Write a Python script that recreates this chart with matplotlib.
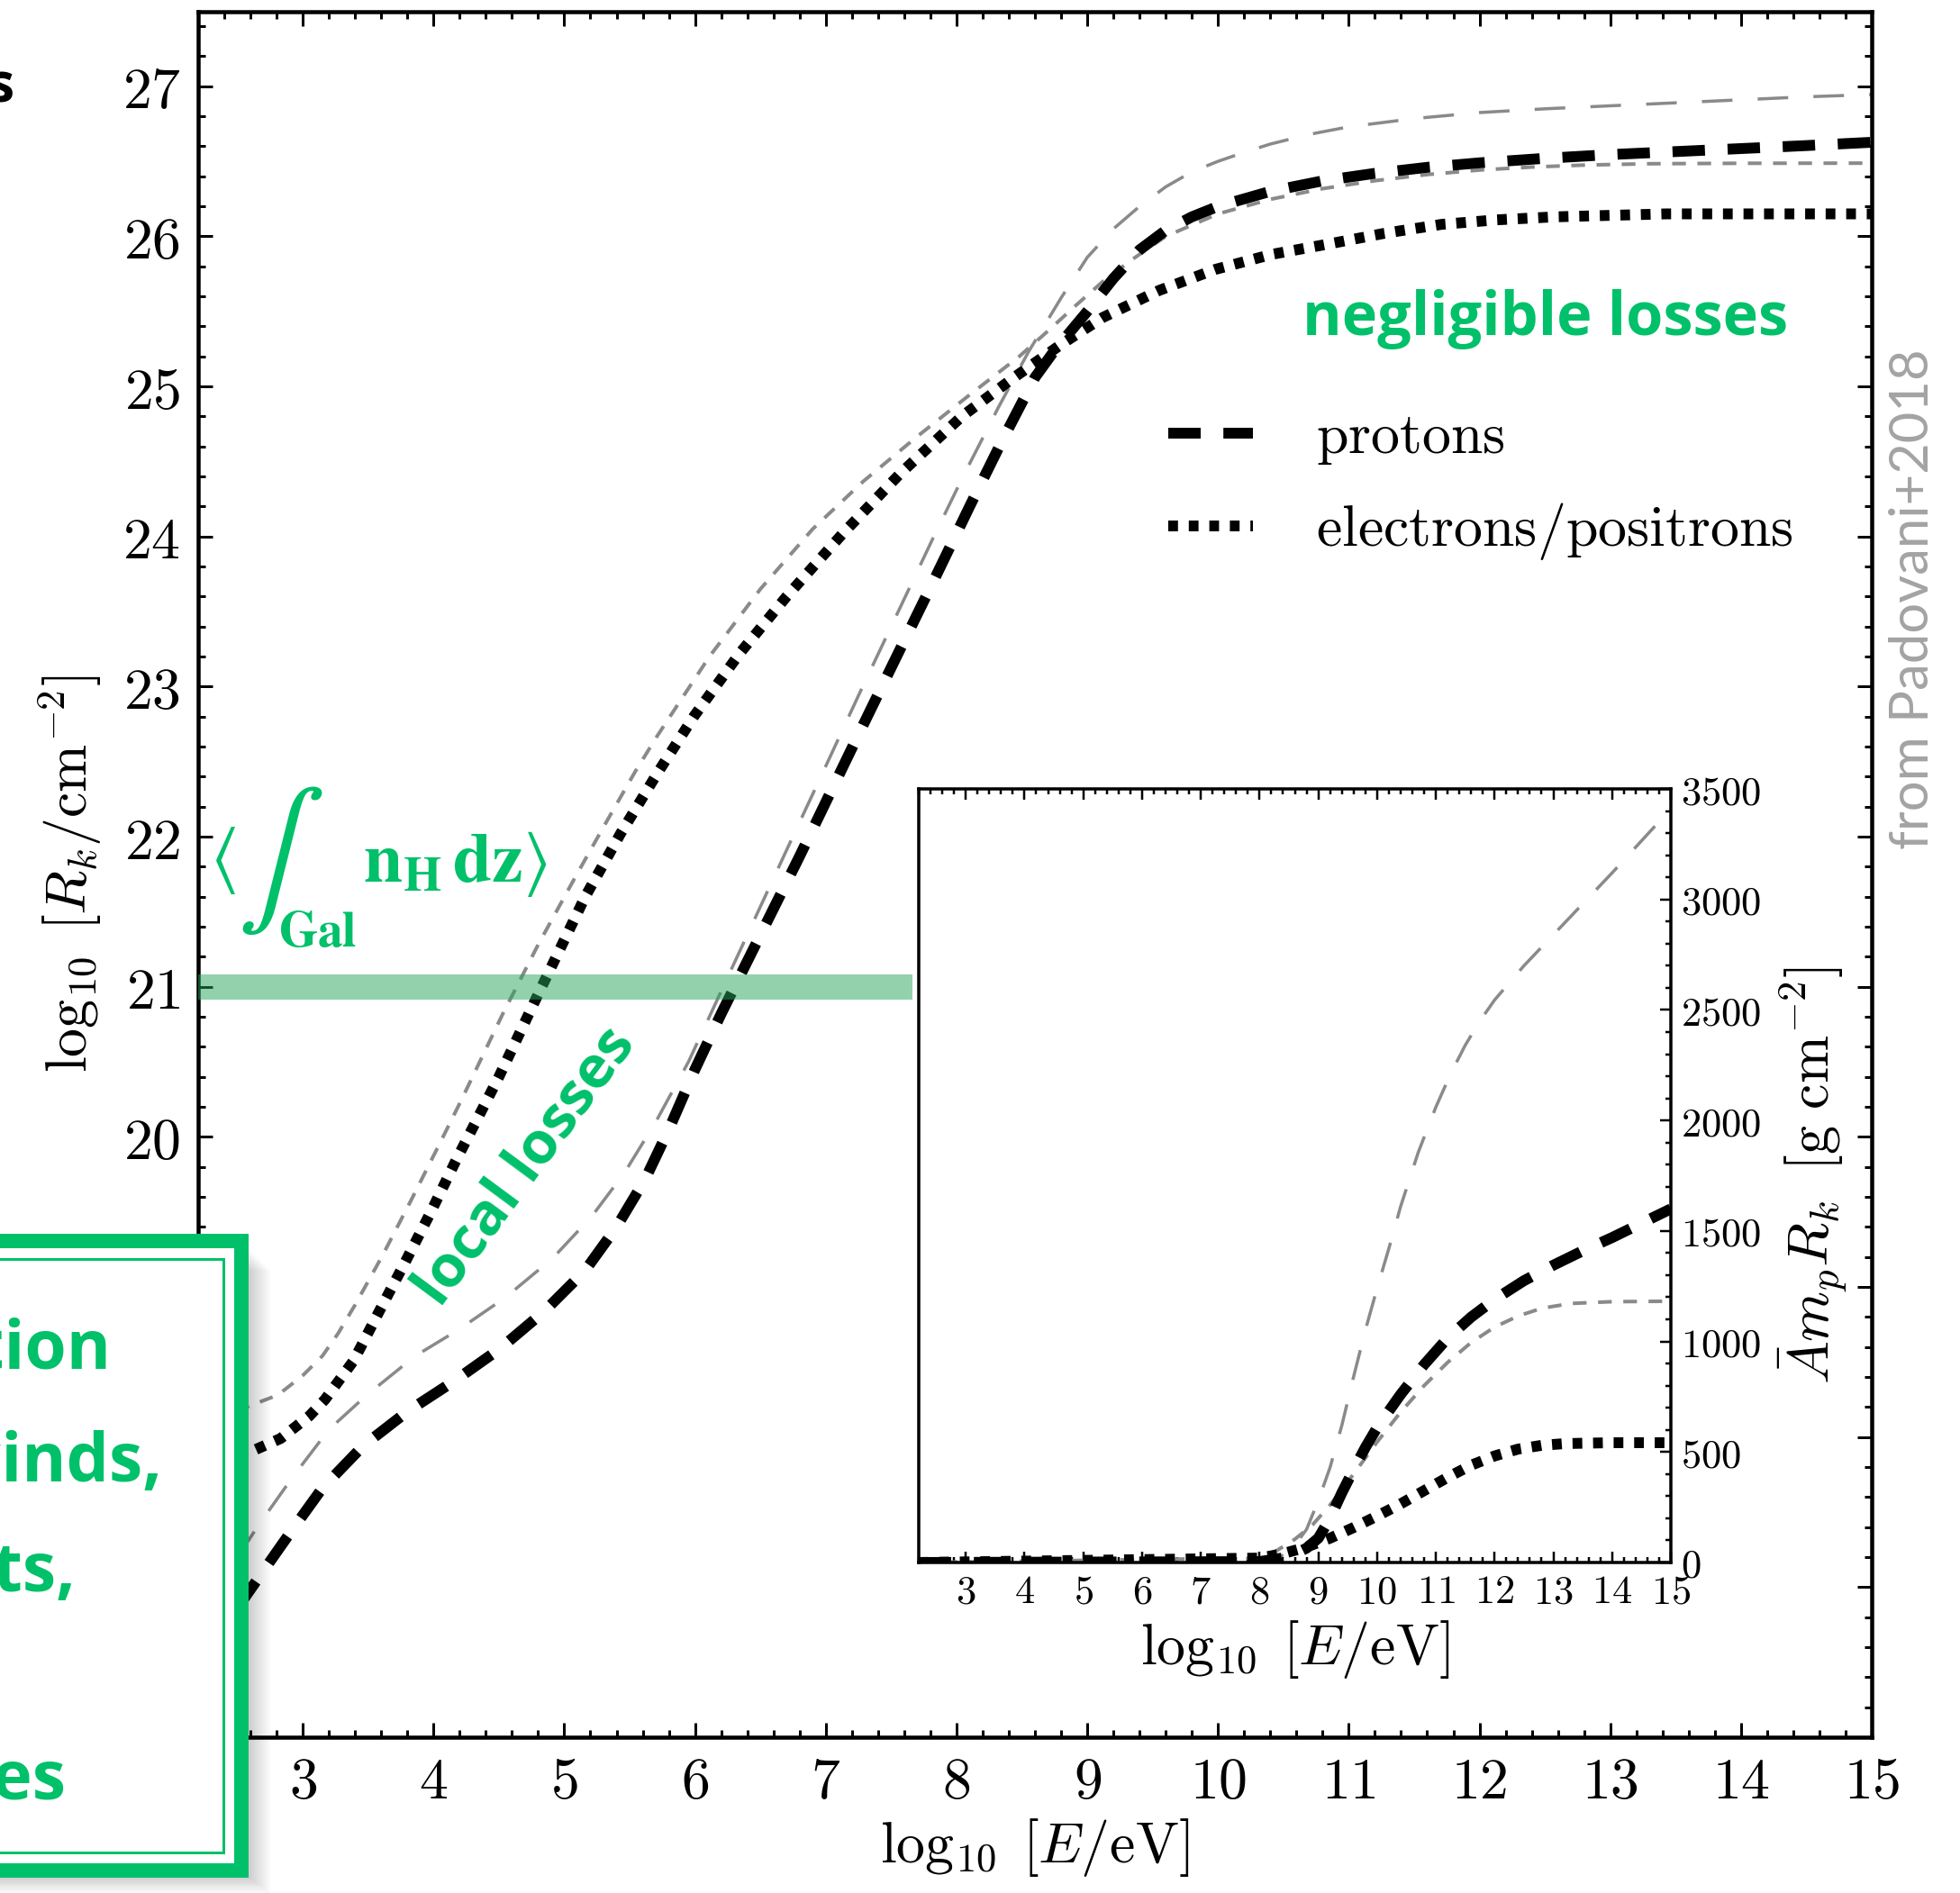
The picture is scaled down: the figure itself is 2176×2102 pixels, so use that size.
import numpy as np
import matplotlib
matplotlib.use("Agg")
import matplotlib.pyplot as plt
from matplotlib.ticker import MultipleLocator, FuncFormatter
from matplotlib.patches import Rectangle
from matplotlib.lines import Line2D

plt.rcParams["mathtext.fontset"] = "cm"
plt.rcParams["font.family"] = ["DejaVu Sans"]

GREEN = "#00c06a"
GREY = "#8a8a8a"

# ---- attenuation columns, log10 R_k [cm^-2] versus log10 E [eV] ----
# protons (thick dashed)
E_P = [2.5, 2.66, 2.91, 3.15, 3.46, 3.8, 4.17, 4.51, 4.85, 5.16, 5.4, 5.62, 5.8, 6.0,
       6.2, 6.4, 6.6, 6.8, 7.0, 7.25, 7.53, 7.8, 8.1, 8.35, 8.6, 8.75, 9.0, 9.2, 9.4,
       9.6, 9.8, 10.0, 10.4, 10.8, 11.2, 11.6, 12.0, 12.5, 13.0, 13.5, 14.0, 14.5, 15.0]
R_P = [16.86, 17.06, 17.37, 17.66, 17.94, 18.17, 18.38, 18.59, 18.84, 19.11, 19.4, 19.72,
       20.05, 20.45, 20.82, 21.17, 21.52, 21.87, 22.23, 22.68, 23.18, 23.66, 24.2, 24.64,
       25.06, 25.24, 25.5, 25.72, 25.91, 26.04, 26.13, 26.2, 26.3, 26.37, 26.42, 26.46,
       26.49, 26.52, 26.545, 26.565, 26.585, 26.605, 26.627]

# protons, high-density model (thin grey long dashes)
E_PH = [2.5, 2.66, 2.92, 3.2, 3.49, 3.86, 4.2, 4.55, 4.91, 5.21, 5.46, 5.7, 5.95, 6.2,
        6.45, 6.7, 7.0, 7.25, 7.5, 7.81, 8.05, 8.32, 8.55, 8.8, 9.0, 9.2, 9.4, 9.6, 9.8,
        10.0, 10.2, 10.4, 10.7, 11.0, 11.5, 12.0, 12.5, 13.0, 13.5, 14.0, 14.5, 15.0]
R_PH = [17.2, 17.41, 17.73, 18.05, 18.28, 18.54, 18.72, 18.93, 19.19, 19.47, 19.76, 20.1,
        20.5, 20.97, 21.44, 21.91, 22.47, 22.94, 23.4, 23.97, 24.4, 24.86, 25.23, 25.59,
        25.86, 26.05, 26.2, 26.33, 26.43, 26.5, 26.56, 26.615, 26.68, 26.73, 26.785,
        26.825, 26.85, 26.87, 26.89, 26.91, 26.93, 26.945]

# electrons/positrons (thick dotted)
E_E = [2.5, 2.57, 2.83, 3.05, 3.17, 3.39, 3.58, 3.78, 3.98, 4.17, 4.5, 4.8, 5.16, 5.43,
       5.71, 5.99, 6.34, 6.7, 7.13, 7.57, 8.04, 8.44, 8.8, 9.12, 9.55, 9.98, 10.41,
       10.85, 11.27, 11.71, 12.13, 12.57, 13.43, 15.0]
R_E = [17.86, 17.89, 17.99, 18.14, 18.25, 18.51, 18.83, 19.16, 19.5, 19.84, 20.4, 20.95,
       21.6, 22.02, 22.42, 22.8, 23.22, 23.6, 24.02, 24.42, 24.8, 25.06, 25.28, 25.46,
       25.64, 25.78, 25.88, 25.95, 26.02, 26.08, 26.11, 26.13, 26.15, 26.15]

# electrons/positrons, high-density model (thin grey short dashes)
E_EH = [2.5, 2.57, 2.81, 3.0, 3.15, 3.27, 3.4, 3.61, 3.83, 4.05, 4.21, 4.53, 4.8, 5.09,
        5.31, 5.54, 5.71, 6.11, 6.5, 6.9, 7.29, 7.69, 8.08, 8.48, 8.7, 8.9, 9.12, 9.35,
        9.6, 10.0, 10.4, 10.8, 11.2, 11.6, 12.0, 12.4, 12.8, 13.3, 14.0, 15.0]
R_EH = [18.16, 18.2, 18.28, 18.41, 18.54, 18.69, 18.88, 19.21, 19.58, 19.96, 20.24, 20.82,
        21.28, 21.74, 22.08, 22.43, 22.67, 23.2, 23.65, 24.05, 24.37, 24.66, 24.93, 25.2,
        25.37, 25.53, 25.7, 25.85, 26.0, 26.15, 26.247, 26.318, 26.371, 26.412, 26.442,
        26.462, 26.475, 26.484, 26.487, 26.488]

# ---- surface density A m_p R_k [g cm^-2] (inset) ----
EI_P = [2.2, 8.0, 8.5, 8.8, 9.0, 9.2, 9.4, 9.6, 9.8, 10.0, 10.4, 10.8, 11.2, 11.6, 12.0,
        12.5, 13.0, 13.5, 14.0, 14.5, 15.0]
SI_P = [0, 4, 25, 65, 110, 200, 315, 420, 520, 610, 760, 895, 1015, 1110, 1190, 1275,
        1345, 1410, 1470, 1535, 1600]
EI_PH = [2.2, 8.0, 8.5, 8.8, 9.0, 9.2, 9.4, 9.6, 9.8, 10.0, 10.2, 10.4, 10.7, 11.0, 11.25,
         11.5, 11.75, 12.0, 12.5, 13.0, 13.5, 14.0, 14.5, 15.0]
SI_PH = [0, 5, 40, 150, 280, 430, 620, 840, 1050, 1240, 1420, 1610, 1855, 2060, 2210,
         2340, 2450, 2545, 2700, 2840, 2980, 3120, 3265, 3410]
EI_E = [2.2, 8.0, 8.4, 8.8, 9.2, 9.6, 10.0, 10.4, 10.8, 11.2, 11.6, 12.0, 12.4, 12.8,
        13.2, 14.0, 15.0]
SI_E = [0, 20, 40, 70, 110, 158, 210, 265, 325, 385, 440, 482, 513, 530, 538, 542, 542]
EI_EH = [2.2, 8.0, 8.3, 8.6, 8.9, 9.2, 9.6, 10.0, 10.4, 10.8, 11.2, 11.6, 12.0, 12.4,
         12.8, 13.3, 14.0, 15.0]
SI_EH = [0, 20, 55, 105, 170, 260, 400, 545, 680, 800, 905, 995, 1065, 1115, 1150, 1172,
         1180, 1182]

# mean Galactic column and its band
GAL_COLUMN = 21.0
GAL_HALF_WIDTH = 0.085
GAL_BAND_END = 7.66

XTICKS = list(range(3, 16))
YTICKS = list(range(16, 28))
INSET_YTICKS = list(range(0, 3501, 500))

W, H = 2176, 2102
fig = plt.figure(figsize=(W / 100, H / 100), dpi=100)


def fx(px):
    return px / W


def fy(py):
    return 1 - py / H


# line styles (dash lengths in units of the line width)
PX = 0.72
sty_p = dict(color="black", lw=12 * PX, dashes=(3.0, 2.1))
sty_e = dict(color="black", lw=12 * PX, dashes=(0.9, 1.0))
sty_ph = dict(color=GREY, lw=3.5 * PX, dashes=(9.7, 8.0))
sty_eh = dict(color=GREY, lw=4 * PX, dashes=(3.8, 3.2))

math_fmt = FuncFormatter(lambda v, p: r"$%d$" % round(v))

# ---------------- main panel ----------------
ax = fig.add_axes([fx(220), fy(1929), fx(2078) - fx(220), fy(12.5) - fy(1929)])
ax.plot(E_PH, R_PH, **sty_ph)
ax.plot(E_EH, R_EH, **sty_eh)
ax.plot(E_P, R_P, **sty_p)
ax.plot(E_E, R_E, **sty_e)
ax.axhspan(GAL_COLUMN - GAL_HALF_WIDTH, GAL_COLUMN + GAL_HALF_WIDTH,
           xmin=0, xmax=(GAL_BAND_END - 2.2) / 12.8,
           color="#27a559", alpha=0.5, lw=0, zorder=5)

ax.set_xlim(2.2, 15)
ax.set_ylim(16, 27.5)
ax.set_xticks(XTICKS)
ax.set_yticks(YTICKS)
ax.xaxis.set_minor_locator(MultipleLocator(0.2))
ax.yaxis.set_minor_locator(MultipleLocator(0.2))
ax.xaxis.set_major_formatter(math_fmt)
ax.yaxis.set_major_formatter(math_fmt)
ax.tick_params(which="both", direction="in", top=True, right=True,
               width=3 * PX, labelsize=46)
ax.tick_params(which="major", length=16 * PX, pad=14)
ax.tick_params(which="minor", length=8 * PX)
for s in ax.spines.values():
    s.set_linewidth(4.5 * PX)
ax.set_xlabel(r"$\log_{10}\;[E/\mathrm{eV}]$", fontsize=46, labelpad=5)
ax.set_ylabel(r"$\log_{10}\;[R_k/\mathrm{cm}^{-2}]$", fontsize=46, labelpad=15)

handles = [Line2D([], [], **sty_p), Line2D([], [], **sty_e)]
ax.legend(handles, [r"$\mathrm{protons}$", r"$\mathrm{electrons/positrons}$"],
          loc="upper left", bbox_to_anchor=(fx(1297), fy(454)),
          bbox_transform=fig.transFigure, frameon=False, fontsize=46,
          handlelength=1.47, handletextpad=1.1, labelspacing=0.6,
          borderpad=0, borderaxespad=0)

# annotations
ax.text(2.29, 21.84, r"$\langle$", color=GREEN, fontsize=58,
        math_fontfamily="stix", ha="left", va="center")
ax.text(2.50, 21.84, r"$\int$", color=GREEN, fontsize=104,
        math_fontfamily="stix", ha="left", va="center")
ax.text(2.81, 21.27, r"$\mathbf{Gal}$", color=GREEN, fontsize=40,
        math_fontfamily="stix", ha="left", va="baseline")
ax.text(3.46, 21.7, r"$\mathbf{n}_{\mathbf{H}}\,\mathbf{dz}\rangle$", color=GREEN,
        fontsize=56, math_fontfamily="stix", ha="left", va="baseline")
ax.text(4.71, 19.8, "local losses", color=GREEN, fontsize=47, family="Open Sans",
        weight="bold", rotation=53.5, ha="center", va="center",
        rotation_mode="anchor")
ax.text(12.5, 25.45, "negligible losses", color=GREEN, fontsize=48,
        family="Open Sans", weight="bold", ha="center", va="center")

# ---------------- inset ----------------
axi = fig.add_axes([fx(1020), fy(1735), fx(1855) - fx(1020), fy(876) - fy(1735)])
axi.plot(EI_PH, SI_PH, **sty_ph)
axi.plot(EI_EH, SI_EH, **sty_eh)
axi.plot(EI_P, SI_P, **sty_p)
axi.plot(EI_E, SI_E, **sty_e)
axi.set_xlim(2.2, 15)
axi.set_ylim(0, 3500)
axi.set_xticks(XTICKS)
axi.set_yticks(INSET_YTICKS)
axi.xaxis.set_minor_locator(MultipleLocator(0.2))
axi.yaxis.set_minor_locator(MultipleLocator(100))
axi.xaxis.set_major_formatter(math_fmt)
axi.yaxis.set_major_formatter(math_fmt)
axi.yaxis.tick_right()
axi.yaxis.set_label_position("right")
axi.tick_params(which="both", direction="in", top=True, left=False, right=True,
                width=2.5 * PX, labelsize=32)
axi.tick_params(which="major", length=12 * PX, pad=8)
axi.tick_params(which="minor", length=6 * PX)
for s in axi.spines.values():
    s.set_linewidth(3.5 * PX)
axi.set_xlabel(r"$\log_{10}\;[E/\mathrm{eV}]$", fontsize=46, labelpad=6)
axi.set_ylabel(r"$\bar{A}m_pR_k\;\;[\mathrm{g\ cm}^{-2}]$", fontsize=46, labelpad=12)

# ---------------- slide furniture ----------------
fig.text(fx(2124), fy(665), "from Padovani+2018", rotation=90, color="#a3a3a3",
         fontsize=43, family="Lato", weight="normal", ha="center", va="center")
fig.text(fx(17), fy(97), "losses", color="black", fontsize=43, family="Open Sans",
         weight="bold", ha="right", va="center")

# callout box with soft shadow
bx0, bx1, by0, by1 = -40, 268, 1378, 2077
for d in range(2, 34, 3):
    fig.add_artist(Rectangle((fx(bx0), fy(by1 + d * 0.8)), fx(bx1 + d) - fx(bx0),
                             fy(by0 + d) - fy(by1 + d * 0.8),
                             transform=fig.transFigure, facecolor="black",
                             alpha=0.024, lw=0, zorder=8))
fig.add_artist(Rectangle((fx(bx0), fy(by1)), fx(bx1) - fx(bx0), fy(by0) - fy(by1),
                         transform=fig.transFigure, facecolor="white",
                         edgecolor=GREEN, lw=16 * PX, zorder=9))
fig.add_artist(Rectangle((fx(bx0 + 20), fy(by1 - 20)), fx(bx1 - 20) - fx(bx0 + 20),
                         fy(by0 + 20) - fy(by1 - 20), transform=fig.transFigure,
                         facecolor="none", edgecolor=GREEN, lw=3 * PX, zorder=9))

box_lines = [("acceleration", 124, 1520), ("protostellar winds,", 180, 1645),
             ("jets,", 85, 1767), ("surfaces", 74, 1998)]
for txt, xr, yb in box_lines:
    fig.text(fx(xr), fy(yb), txt, color=GREEN, fontsize=54, family="Open Sans",
             weight="bold", ha="right", va="baseline", zorder=10)

fig.savefig("out.png", dpi=100)
